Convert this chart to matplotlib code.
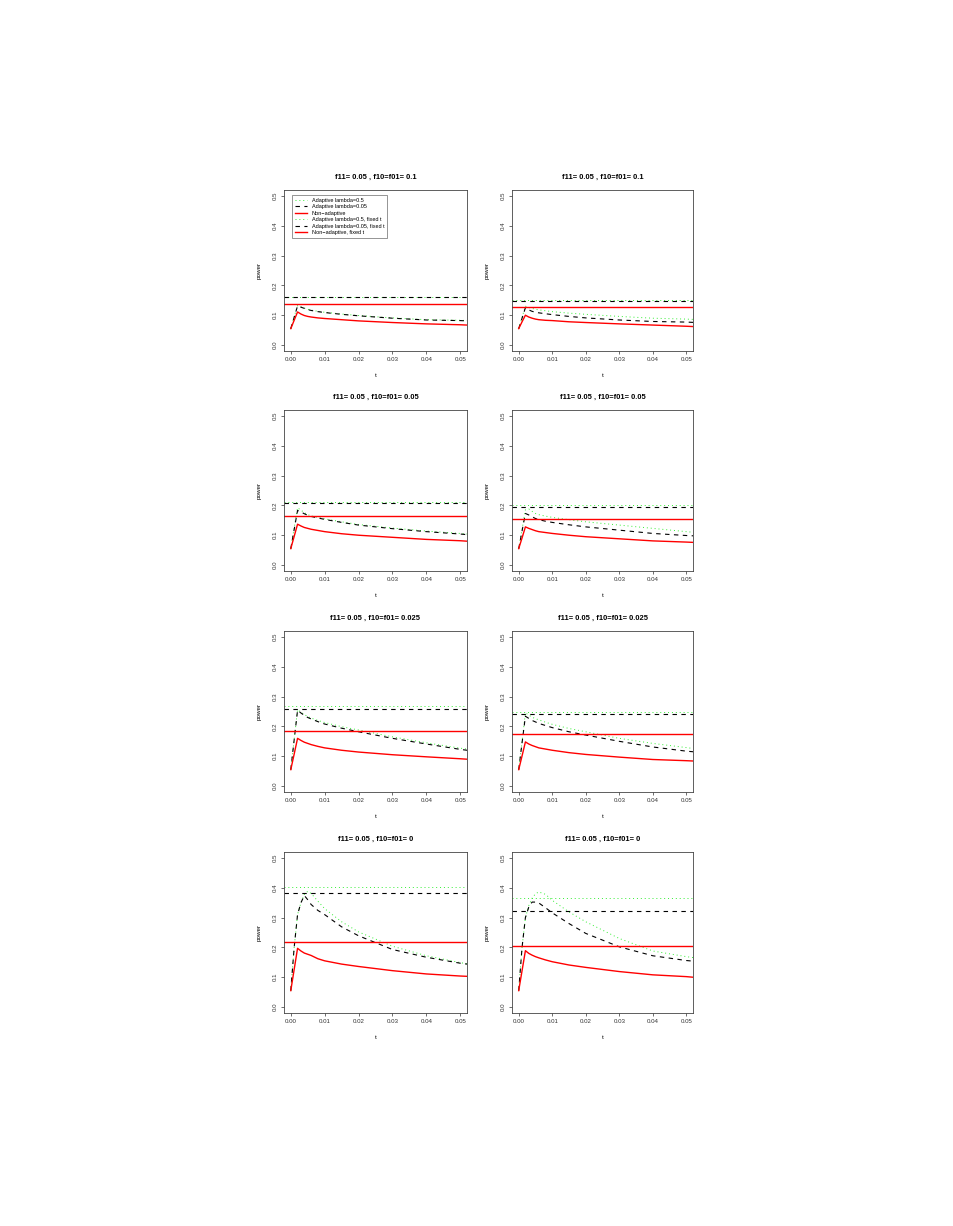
import numpy as np
import matplotlib
matplotlib.use('Agg')
import matplotlib.pyplot as plt

plt.rcParams['font.family'] = ['Liberation Sans', 'DejaVu Sans']

# common t grid
t = [0, 0.001, 0.002, 0.003, 0.004, 0.005, 0.006, 0.008, 0.01, 0.015, 0.02, 0.03, 0.04, 0.05, 0.052]

titles = ['f11= 0.05 , f10=f01= 0.1', 'f11= 0.05 , f10=f01= 0.1',
          'f11= 0.05 , f10=f01= 0.05', 'f11= 0.05 , f10=f01= 0.05',
          'f11= 0.05 , f10=f01= 0.025', 'f11= 0.05 , f10=f01= 0.025',
          'f11= 0.05 , f10=f01= 0', 'f11= 0.05 , f10=f01= 0']

# adaptive lambda=0.5
ad05 = [
    [0.055, 0.095, 0.132, 0.128, 0.124, 0.120, 0.117, 0.113, 0.110, 0.104, 0.099, 0.091, 0.085, 0.083, 0.082],
    [0.055, 0.093, 0.130, 0.126, 0.123, 0.120, 0.118, 0.115, 0.112, 0.107, 0.103, 0.096, 0.090, 0.087, 0.086],
    [0.055, 0.124, 0.192, 0.184, 0.176, 0.169, 0.165, 0.160, 0.155, 0.145, 0.136, 0.124, 0.114, 0.106, 0.104],
    [0.055, 0.120, 0.185, 0.188, 0.180, 0.173, 0.169, 0.164, 0.160, 0.152, 0.145, 0.134, 0.123, 0.112, 0.110],
    [0.055, 0.156, 0.256, 0.248, 0.240, 0.233, 0.228, 0.220, 0.213, 0.199, 0.188, 0.165, 0.145, 0.127, 0.124],
    [0.055, 0.150, 0.245, 0.238, 0.231, 0.226, 0.222, 0.214, 0.207, 0.193, 0.182, 0.160, 0.143, 0.129, 0.126],
    [0.055, 0.200, 0.310, 0.350, 0.378, 0.388, 0.381, 0.355, 0.330, 0.286, 0.252, 0.204, 0.172, 0.149, 0.145],
    [0.055, 0.200, 0.300, 0.340, 0.365, 0.380, 0.386, 0.378, 0.358, 0.319, 0.286, 0.230, 0.188, 0.169, 0.166],
]
# adaptive lambda=0.05
ad005 = [
    [0.055, 0.093, 0.131, 0.127, 0.123, 0.119, 0.116, 0.112, 0.109, 0.103, 0.098, 0.090, 0.084, 0.082, 0.081],
    [0.055, 0.090, 0.125, 0.118, 0.113, 0.110, 0.108, 0.105, 0.102, 0.096, 0.091, 0.084, 0.079, 0.077, 0.076],
    [0.055, 0.119, 0.183, 0.178, 0.172, 0.167, 0.163, 0.158, 0.153, 0.143, 0.134, 0.122, 0.112, 0.104, 0.102],
    [0.055, 0.114, 0.173, 0.168, 0.162, 0.156, 0.152, 0.147, 0.143, 0.135, 0.128, 0.117, 0.106, 0.099, 0.098],
    [0.055, 0.155, 0.254, 0.245, 0.237, 0.230, 0.225, 0.216, 0.208, 0.194, 0.182, 0.160, 0.141, 0.123, 0.120],
    [0.055, 0.145, 0.234, 0.227, 0.220, 0.215, 0.210, 0.203, 0.196, 0.182, 0.171, 0.150, 0.131, 0.117, 0.115],
    [0.055, 0.200, 0.310, 0.350, 0.374, 0.360, 0.344, 0.324, 0.310, 0.269, 0.239, 0.193, 0.167, 0.147, 0.144],
    [0.055, 0.200, 0.300, 0.335, 0.352, 0.352, 0.349, 0.333, 0.316, 0.280, 0.247, 0.202, 0.172, 0.156, 0.154],
]
# non-adaptive
nonad = [
    [0.055, 0.083, 0.111, 0.104, 0.099, 0.096, 0.094, 0.091, 0.089, 0.085, 0.081, 0.0755, 0.071, 0.068, 0.067],
    [0.055, 0.078, 0.100, 0.094, 0.090, 0.087, 0.085, 0.083, 0.082, 0.078, 0.0755, 0.071, 0.067, 0.063, 0.062],
    [0.055, 0.096, 0.137, 0.131, 0.126, 0.123, 0.120, 0.116, 0.112, 0.105, 0.100, 0.093, 0.086, 0.0815, 0.080],
    [0.055, 0.091, 0.128, 0.123, 0.119, 0.115, 0.112, 0.109, 0.106, 0.100, 0.095, 0.088, 0.081, 0.077, 0.076],
    [0.055, 0.107, 0.160, 0.153, 0.147, 0.143, 0.139, 0.133, 0.128, 0.120, 0.114, 0.105, 0.098, 0.0915, 0.090],
    [0.055, 0.101, 0.148, 0.141, 0.136, 0.132, 0.128, 0.124, 0.120, 0.112, 0.106, 0.097, 0.089, 0.085, 0.084],
    [0.055, 0.126, 0.197, 0.188, 0.181, 0.177, 0.173, 0.162, 0.155, 0.144, 0.136, 0.122, 0.111, 0.104, 0.103],
    [0.055, 0.122, 0.189, 0.180, 0.174, 0.169, 0.165, 0.158, 0.152, 0.141, 0.133, 0.119, 0.108, 0.102, 0.100],
]
# fixed t levels
fix05 = [0.162, 0.150, 0.211, 0.200, 0.268, 0.247, 0.402, 0.367]
fix005 = [0.160, 0.147, 0.209, 0.196, 0.259, 0.241, 0.381, 0.323]
fixnon = [0.139, 0.126, 0.164, 0.154, 0.184, 0.173, 0.217, 0.206]

legend_labels = ['Adaptive lambda=0.5', 'Adaptive lambda=0.05', 'Non\u2212adaptive',
                 'Adaptive lambda=0.5, fixed t', 'Adaptive lambda=0.05, fixed t',
                 'Non\u2212adaptive, fixed t']

W, H = 954, 1226
fig = plt.figure(figsize=(W / 100, H / 100), dpi=100)

lefts = [284, 512]
widths = [183, 181]
tops = [190, 410, 631, 852]
ah = 161

dotted = (0, (1, 3))
dashed = (0, (4, 4))

for i in range(8):
    r, c = divmod(i, 2)
    ax = fig.add_axes([lefts[c] / W, 1 - (tops[r] + ah) / H, widths[c] / W, ah / H])
    l1, = ax.plot(t, ad05[i], color='#33ee33', ls=dotted, lw=0.7)
    l2, = ax.plot(t, ad005[i], color='black', ls=dashed, lw=0.8)
    l3, = ax.plot(t, nonad[i], color='red', ls='-', lw=1.0)
    l4 = ax.axhline(fix05[i], color='#33ee33', ls=dotted, lw=0.7)
    l5 = ax.axhline(fix005[i], color='black', ls=dashed, lw=0.8)
    l6 = ax.axhline(fixnon[i], color='red', ls='-', lw=1.0)
    ax.set_xlim(-0.002, 0.052)
    ax.set_ylim(-0.02, 0.52)
    ax.set_xticks([0, 0.01, 0.02, 0.03, 0.04, 0.05])
    ax.set_xticklabels(['0.00', '0.01', '0.02', '0.03', '0.04', '0.05'])
    ax.set_yticks([0, 0.1, 0.2, 0.3, 0.4, 0.5])
    ax.set_yticklabels(['0.0', '0.1', '0.2', '0.3', '0.4', '0.5'], rotation=90, va='center')
    ax.tick_params(labelsize=4.4, length=2.5, width=0.5, pad=2, colors='#333333')
    for s in ax.spines.values():
        s.set_linewidth(0.6)
        s.set_color('#444444')
    ax.set_xlabel('t', fontsize=4.5, labelpad=8)
    ax.set_ylabel('power', fontsize=4.5, labelpad=8)
    ax.set_title(titles[i], fontsize=5.4, fontweight='bold', pad=8)
    if i == 0:
        leg = ax.legend([l1, l2, l3, l4, l5, l6], legend_labels, loc='upper left',
                        bbox_to_anchor=(0.03, 0.985), fontsize=4, frameon=True,
                        fancybox=False, edgecolor='#444444', handlelength=2.2,
                        labelspacing=0.25, borderpad=0.5, handletextpad=0.8)
        leg.get_frame().set_linewidth(0.5)

fig.savefig('out.png', dpi=100, facecolor='white')
